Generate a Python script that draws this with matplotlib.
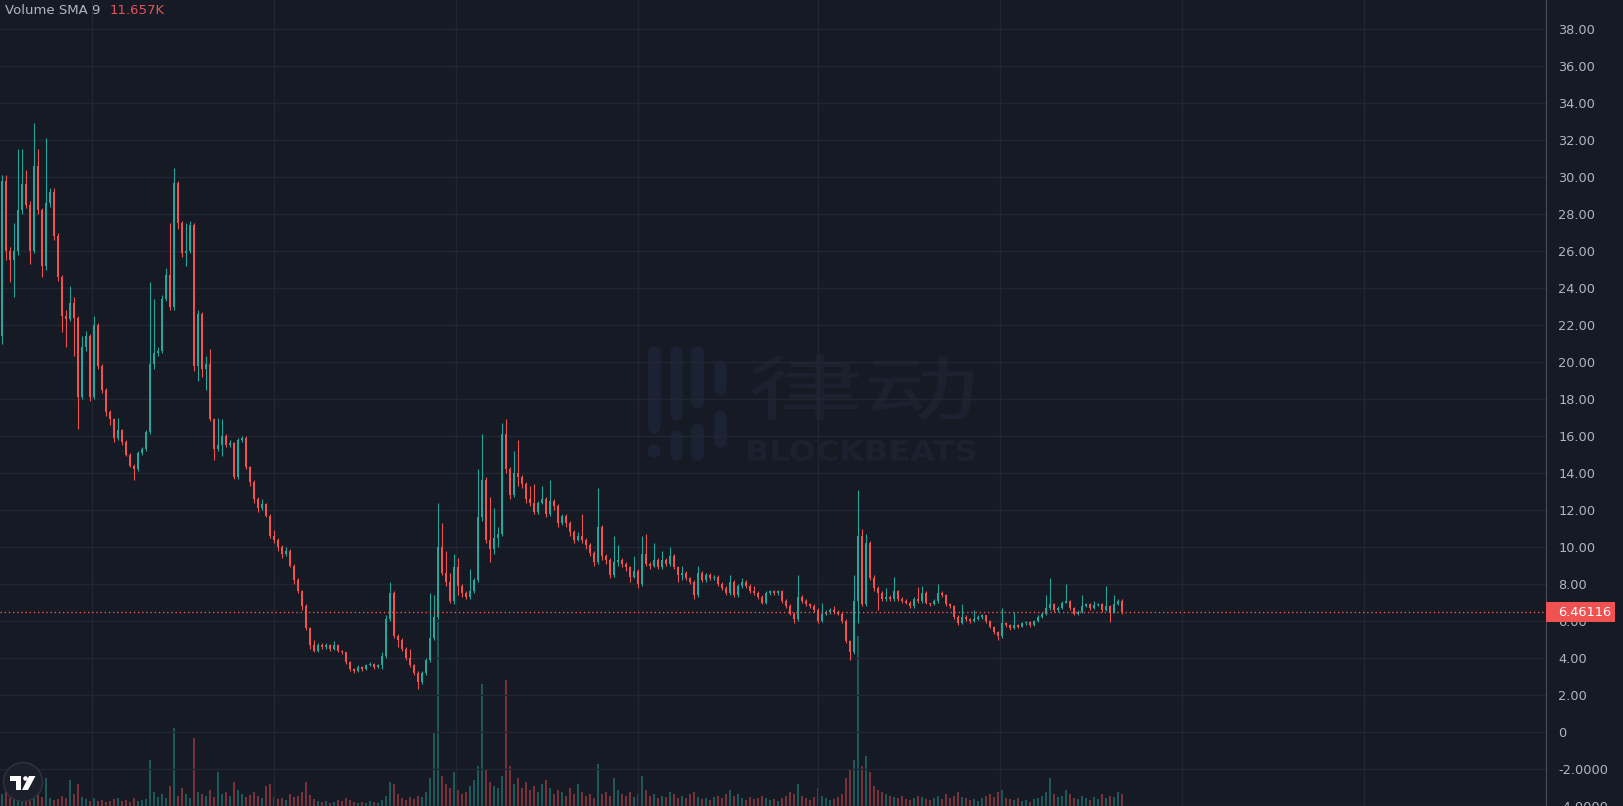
import numpy as np
import matplotlib.pyplot as plt
from matplotlib.patches import Rectangle, Circle, Polygon, PathPatch
from matplotlib.textpath import TextPath
from matplotlib.font_manager import FontProperties
from matplotlib.transforms import Affine2D, blended_transform_factory

# ---- data (price in USD, volume in K) ----
first_open = 21.4
closes = [
    29.8, 26.0, 25.5, 26.0, 28.2, 29.6, 28.5, 26.0, 30.6, 28.2,
    25.2, 28.6, 29.2, 26.8, 24.6, 22.5, 22.3, 23.2, 22.4, 18.1,
    20.8, 21.4, 18.1, 22.0, 19.8, 18.5, 17.3, 16.9, 15.9, 16.3,
    15.7, 15.0, 14.4, 14.2, 15.1, 15.3, 16.2, 19.9, 20.5, 20.6,
    23.4, 24.7, 23.0, 29.7, 27.5, 25.9, 26.0, 27.4, 19.8, 22.6,
    19.6, 19.9, 16.9, 15.3, 15.5, 16.0, 15.5, 15.6, 13.8, 15.8,
    15.9, 14.3, 13.5, 12.6, 12.1, 12.3, 11.7, 10.6, 10.4, 10.0,
    9.6, 9.8, 9.0, 8.2, 7.6, 6.8, 5.6, 4.7, 4.4, 4.7,
    4.6, 4.7, 4.5, 4.7, 4.4, 4.3, 3.8, 3.4, 3.3, 3.5,
    3.4, 3.6, 3.7, 3.5, 3.6, 4.1, 6.1, 7.5, 5.2, 5.0,
    4.5, 4.0, 3.6, 3.2, 2.7, 3.2, 3.9, 5.1, 6.2, 10.0,
    8.6, 8.1, 7.1, 8.9, 7.9, 7.5, 7.3, 7.6, 8.2, 11.6,
    13.6, 10.4, 9.9, 10.5, 10.7, 16.1, 14.2, 12.8, 14.0, 13.8,
    13.4, 12.6, 12.4, 11.9, 12.4, 12.6, 11.8, 12.5, 12.2, 11.3,
    11.7, 11.3, 10.8, 10.4, 10.6, 10.4, 10.1, 9.7, 9.2, 11.1,
    9.5, 9.3, 8.5, 9.2, 9.3, 9.1, 8.9, 8.4, 8.7, 8.0,
    9.6, 9.1, 9.0, 9.3, 8.9, 9.3, 9.1, 9.5, 8.9, 8.5,
    8.6, 8.3, 8.1, 7.4, 8.6, 8.2, 8.5, 8.3, 8.4, 8.0,
    7.8, 7.5, 8.1, 7.4, 7.9, 8.1, 7.9, 7.6, 7.5, 7.3,
    7.0, 7.5, 7.6, 7.5, 7.6, 7.1, 6.8, 6.4, 6.1, 7.3,
    7.1, 6.9, 6.8, 6.6, 6.0, 6.4, 6.5, 6.6, 6.5, 6.4,
    6.0, 4.9, 4.3, 7.1, 10.6, 6.9, 10.2, 8.3, 7.8, 7.5,
    7.2, 7.3, 7.2, 7.6, 7.2, 7.1, 7.0, 6.8, 7.2, 7.1,
    7.5, 6.95, 6.9, 7.1, 7.5, 7.4, 6.9, 6.8, 6.2, 5.9,
    6.2, 6.1, 6.0, 6.1, 6.2, 6.3, 6.0, 5.7, 5.4, 5.2,
    5.9, 5.8, 5.6, 5.8, 5.7, 5.9, 5.95, 5.8, 6.0, 6.2,
    6.4, 6.7, 6.9, 6.6, 6.7, 7.0, 7.1, 6.7, 6.4, 6.5,
    6.8, 6.9, 6.7, 6.85, 6.9, 6.6, 6.8, 6.5, 6.9, 7.1,
    6.46116,
]
highs = [
    30.1, 30.1, 26.2, 27.5, 31.5, 31.5, 30.4, 28.7, 32.9, 31.5,
    28.3, 32.1, 29.4, 29.4, 27.0, 24.7, 22.8, 24.1, 23.5, 22.5,
    21.4, 21.7, 21.5, 22.5, 22.1, 19.9, 18.6, 17.4, 17.0, 17.0,
    16.4, 15.8, 15.1, 14.5, 15.2, 15.4, 16.3, 24.3, 23.4, 20.8,
    23.6, 25.1, 27.5, 30.5, 29.8, 27.6, 27.5, 27.6, 27.5, 22.8,
    22.7, 20.3, 20.7, 17.0, 17.0, 16.9, 16.1, 15.8, 15.7, 15.9,
    16.0, 16.0, 14.4, 13.6, 12.7, 12.6, 12.4, 11.8, 10.9, 10.5,
    10.1, 10.0, 9.9, 9.1, 8.3, 7.7, 6.9, 5.7, 5.0, 4.8,
    4.8, 4.8, 4.75, 4.9, 4.75, 4.45, 4.35, 3.85, 3.45, 3.6,
    3.55, 3.65, 3.8, 3.75, 3.7, 4.3, 6.3, 8.1, 7.6, 5.3,
    5.1, 4.6, 4.5, 3.7, 3.3, 3.3, 4.0, 7.5, 7.4, 12.4,
    11.3, 9.8, 8.6, 9.6, 9.4, 8.0, 7.6, 8.8, 8.3, 14.2,
    16.1, 13.8, 12.7, 12.1, 11.1, 16.7, 16.9, 14.3, 15.2, 15.8,
    13.9, 13.5, 13.3, 13.4, 12.5, 13.3, 12.7, 13.6, 12.6, 12.3,
    11.8, 11.8, 11.4, 10.9, 10.8, 11.8, 10.5, 10.2, 9.8, 13.2,
    11.2, 9.6, 9.4, 10.6, 10.1, 9.4, 9.2, 9.0, 9.5, 8.8,
    10.6, 10.7, 9.2, 10.2, 9.4, 9.8, 9.4, 10.0, 9.6, 9.0,
    9.0, 8.7, 8.4, 8.2, 9.0, 8.7, 8.6, 8.6, 8.5, 8.5,
    8.1, 7.9, 8.5, 8.2, 8.0, 8.3, 8.2, 8.0, 7.9, 7.6,
    7.4, 7.6, 7.7, 7.7, 7.7, 7.7, 7.2, 6.9, 6.5, 8.5,
    7.4, 7.2, 7.0, 6.9, 6.7, 7.0, 6.6, 6.7, 6.8, 6.6,
    6.5, 6.1, 5.0, 8.5, 13.1, 11.0, 10.7, 10.3, 8.5, 7.9,
    7.6, 7.8, 7.4, 8.4, 7.7, 7.3, 7.2, 7.1, 7.3, 7.85,
    7.9, 7.6, 7.0, 7.2, 8.0, 7.6, 7.45, 7.0, 6.85, 6.3,
    6.9, 6.3, 6.15, 6.6, 6.3, 6.4, 6.35, 6.05, 5.75, 5.45,
    6.7, 5.95, 5.85, 6.5, 5.85, 5.95, 6.0, 6.0, 6.05, 6.3,
    6.5, 7.4, 8.3, 6.95, 6.8, 7.1, 8.0, 7.15, 6.75, 6.6,
    7.4, 7.0, 6.95, 7.1, 7.0, 6.95, 7.9, 6.85, 7.4, 7.2,
    7.2,
]
lows = [
    21.0, 25.5, 24.3, 23.5, 25.8, 28.0, 28.3, 25.3, 25.9, 28.0,
    24.6, 25.0, 28.4, 26.6, 24.4, 21.6, 20.8, 22.2, 20.3, 16.4,
    18.0, 20.6, 17.9, 18.0, 19.6, 18.3, 17.1, 16.6, 15.7, 15.8,
    15.5, 14.9, 14.3, 13.6, 14.1, 15.0, 15.2, 16.1, 19.6, 20.3,
    20.5, 23.3, 22.8, 22.8, 27.2, 25.7, 25.2, 25.9, 19.5, 19.0,
    19.2, 18.5, 16.8, 14.7, 15.2, 14.9, 15.4, 15.4, 13.7, 13.7,
    15.7, 14.2, 13.3, 12.4, 11.9, 12.0, 11.6, 10.5, 10.2, 9.8,
    9.4, 9.5, 8.9, 8.0, 7.5, 6.6, 5.5, 4.5, 4.3, 4.3,
    4.5, 4.5, 4.4, 4.45, 4.3, 4.2, 3.7, 3.3, 3.2, 3.25,
    3.3, 3.35, 3.55, 3.4, 3.45, 3.4, 4.0, 6.0, 5.1, 4.6,
    4.4, 3.9, 3.5, 3.1, 2.3, 2.6, 3.1, 3.8, 5.0, 6.1,
    8.5, 7.9, 7.0, 6.9, 7.4, 7.3, 7.2, 7.2, 7.5, 8.1,
    11.4, 10.2, 9.2, 9.6, 10.0, 10.6, 14.0, 12.6, 12.7, 13.3,
    13.2, 12.4, 12.2, 11.8, 11.8, 12.3, 11.6, 11.7, 12.0, 11.1,
    11.2, 11.1, 10.6, 10.2, 10.3, 10.2, 9.9, 9.5, 9.0, 9.1,
    9.3, 9.1, 8.3, 8.4, 9.0, 8.9, 8.7, 8.1, 8.3, 7.8,
    7.9, 9.0, 8.8, 8.9, 8.8, 8.8, 9.0, 9.0, 8.8, 8.1,
    8.2, 8.2, 8.0, 7.2, 7.3, 8.1, 8.1, 8.2, 8.2, 7.9,
    7.7, 7.4, 7.4, 7.3, 7.3, 7.8, 7.8, 7.5, 7.4, 7.2,
    6.9, 6.9, 7.4, 7.4, 7.4, 7.0, 6.7, 6.3, 5.9, 6.0,
    7.0, 6.8, 6.7, 6.5, 5.9, 5.95, 6.3, 6.4, 6.4, 6.3,
    5.9, 4.8, 3.9, 4.2, 5.9, 6.8, 6.8, 8.2, 7.6, 6.6,
    7.1, 7.1, 7.1, 7.1, 7.1, 7.0, 6.9, 6.7, 6.7, 7.0,
    7.0, 6.9, 6.8, 6.85, 7.0, 7.3, 6.8, 6.7, 6.1, 5.8,
    5.85, 6.0, 5.9, 5.95, 6.05, 6.1, 5.9, 5.6, 5.3, 5.0,
    5.1, 5.7, 5.5, 5.55, 5.6, 5.65, 5.8, 5.7, 5.75, 5.95,
    6.15, 6.35, 6.6, 6.5, 6.5, 6.65, 6.95, 6.6, 6.3, 6.35,
    6.45, 6.75, 6.6, 6.65, 6.8, 6.5, 6.55, 5.95, 6.45, 6.85,
    6.4,
]
volumes = [
    12, 18, 8, 14, 10, 22, 9, 7, 16, 11,
    9, 28, 8, 6, 7, 10, 8, 26, 12, 22,
    9, 7, 5, 8, 5, 6, 4, 5, 7, 8,
    5, 6, 4, 8, 5, 6, 7, 46, 14, 9,
    12, 8, 20, 78, 10, 18, 12, 8, 68, 14,
    12, 10, 16, 9, 34, 12, 14, 10, 24, 16,
    12, 9, 11, 14, 10, 8, 20, 22, 9, 7,
    8, 6, 12, 9, 10, 14, 24, 11, 7, 5,
    4, 5, 3, 4, 6, 5, 8, 6, 4, 3,
    4, 3, 5, 4, 3, 6, 10, 24, 22, 12,
    8, 6, 9, 7, 10, 9, 14, 28, 74, 186,
    30, 22, 18, 34, 16, 12, 14, 20, 26, 40,
    122, 36, 24, 20, 18, 30, 126, 40, 22, 28,
    18, 24, 16, 20, 14, 22, 26, 18, 12, 16,
    14, 10, 18, 12, 22, 14, 10, 12, 8, 42,
    12, 14, 10, 28, 16, 12, 10, 14, 9, 12,
    30, 16, 10, 12, 8, 10, 9, 14, 12, 8,
    10, 8, 12, 14, 9, 7, 8, 6, 9, 10,
    8, 12, 16, 10, 12, 8, 6, 9, 7, 8,
    10, 8, 6, 7, 5, 8, 10, 14, 12, 22,
    10, 8, 6, 9, 18, 10, 8, 6, 7, 9,
    12, 28, 36, 46, 170, 40, 50, 34, 20, 16,
    14, 12, 10, 9, 8, 10, 7, 6, 8, 10,
    9, 7, 6, 8, 10, 7, 12, 8, 10, 14,
    9, 8, 6, 7, 5, 8, 10, 12, 9, 14,
    16, 8, 7, 6, 8, 5, 6, 4, 7, 8,
    10, 14, 28, 12, 9, 10, 16, 12, 8, 7,
    10, 8, 6, 9, 7, 12, 8, 10, 9, 14,
    12,
]
last_price = 6.46116
sma_text = "11.657K"
price_ticks = list(range(-4, 39, 2))
price_labels = ["-4.0000", "-2.0000", "0"] + ["%.2f" % v for v in range(2, 39, 2)]
time_grid = [22.5, 68, 113.5, 159, 204, 249.5, 295, 340.5]

bg = "#161a25"
grid_col = "#222632"
up_col = "#26a69a"
down_col = "#ef5350"
txt_col = "#b2b5be"
mark_col = "#1c2130"
bar_mark_col = "#1b2234"

W, H = 1624, 806
fig = plt.figure(figsize=(W / 100, H / 100), dpi=100, facecolor=bg)

# ---- watermark (pixel coordinates) ----
wm = fig.add_axes([0, 0, 1, 1], zorder=0)
wm.set_xlim(0, W)
wm.set_ylim(H, 0)
wm.axis("off")
for x, y0, y1 in [(654, 352, 427), (676, 352, 414), (676, 436, 454), (697, 352, 402),
                  (697, 429, 454), (720, 366, 389), (720, 416, 441)]:
    wm.plot([x, x], [y0, y1], color=bar_mark_col, lw=9, solid_capstyle="round")
wm.add_patch(Circle((654, 451), 6, color=bar_mark_col))


def stretched_text(s, box, prop):
    tp = TextPath((0, 0), s, size=1, prop=prop)
    ext = tp.get_extents()
    x0, x1, y0, y1 = box
    tr = (Affine2D().translate(-ext.x0, -ext.y0)
          .scale((x1 - x0) / ext.width, -(y1 - y0) / ext.height)
          .translate(x0, y1))
    wm.add_patch(PathPatch(tr.transform_path(tp), color=mark_col, lw=0))


stretched_text("律动", (750, 973, 355, 420), FontProperties(family="Noto Sans CJK SC", weight="medium"))
stretched_text("BLOCKBEATS", (748, 975, 440, 461), FontProperties(family="DejaVu Sans", weight="bold"))

# ---- price and volume panes ----
ax = fig.add_axes([0, 0, 1546 / W, 1], zorder=2)
axv = fig.add_axes([0, 0, 1546 / W, 1], zorder=1, sharex=ax)
for a in (ax, axv):
    a.patch.set_visible(False)
    for s in a.spines.values():
        s.set_visible(False)
ax.spines["right"].set_visible(True)
ax.spines["right"].set_color("#4b4f5a")

c = np.array(closes)
o = np.array([first_open] + closes[:-1])
hi = np.array(highs)
lo = np.array(lows)
vol = np.array(volumes)
idx = np.arange(len(c))
rising = c >= o
cols = np.where(rising, up_col, down_col)

axv.bar(idx, vol, width=0.6, color=cols, alpha=0.45, linewidth=0)
axv.set_ylim(0, H)
axv.set_yticks([])

ax.vlines(idx, lo, hi, colors=cols, linewidth=0.8)
ax.bar(idx, np.maximum(np.abs(c - o), 0.05), bottom=np.minimum(o, c),
       width=0.6, color=cols, linewidth=0)

ax.set_xlim(-0.5, 386)
ax.set_ylim(-4.0, 39.57)
ax.yaxis.tick_right()
ax.set_yticks(price_ticks)
ax.set_yticklabels(price_labels)
ax.set_xticks(time_grid)
ax.set_xticklabels([])
ax.tick_params(axis="both", length=0)
ax.tick_params(axis="y", pad=9, labelsize=9.3, labelcolor=txt_col)
ax.set_axisbelow(True)
ax.grid(True, color=grid_col, linewidth=1)

# last price line and label
ax.axhline(last_price, color=down_col, lw=1, linestyle=(0, (1, 2)))
tr = blended_transform_factory(ax.transAxes, ax.transData)
ax.add_patch(Rectangle((1.0, last_price - 0.54), 69 / 1546, 1.08, transform=tr,
                       clip_on=False, facecolor="#f05252", edgecolor="none", zorder=5))
ax.text(1.0 + 12 / 1546, last_price, "%.5f" % last_price, transform=tr, color="white",
        fontsize=9.3, va="center", ha="left", clip_on=False, zorder=6)

# legend
fig.text(5 / W, 1 - 10 / H, "Volume SMA 9", color=txt_col, fontsize=9.5, va="center")
fig.text(110 / W, 1 - 10 / H, sma_text, color="#e05458", fontsize=9.5, va="center")

# TradingView badge
top = fig.add_axes([0, 0, 1, 1], zorder=10)
top.set_xlim(0, W)
top.set_ylim(H, 0)
top.axis("off")
top.add_patch(Circle((23, 782), 19.5, facecolor="#1b1f2a", edgecolor="#30343f", lw=1))
top.add_patch(Rectangle((10, 776), 11, 4.5, color="white", lw=0))
top.add_patch(Rectangle((16, 776), 5, 14, color="white", lw=0))
top.add_patch(Circle((25.5, 778.5), 2.3, color="white", lw=0))
top.add_patch(Polygon([(29, 776), (35.5, 776), (28, 790), (22, 790)], color="white", lw=0))

fig.savefig("out.png", dpi=100, facecolor=bg)
